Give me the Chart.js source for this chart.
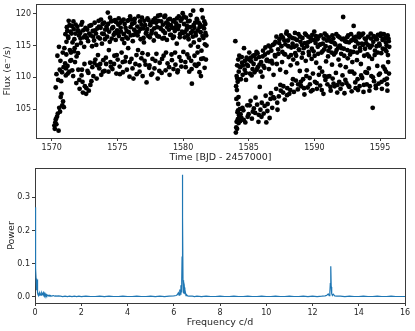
<!DOCTYPE html>
<html>
<head>
<meta charset="utf-8">
<script src="https://cdn.jsdelivr.net/npm/chart.js@4.4.1/dist/chart.umd.min.js"></script>
<style>
  html, body { margin: 0; padding: 0; background: #fff; }
  #wrap { position: relative; width: 415px; height: 331px; }
  .panel { position: absolute; left: 0; width: 415px; }
</style>
</head>
<body>
<div id="wrap">
  <div class="panel" style="top:0;height:166px"><canvas id="lightCurve" width="415" height="166"></canvas></div>
  <div class="panel" style="top:166px;height:165px"><canvas id="periodogram" width="415" height="165"></canvas></div>
</div>
<script>
// Light curve, first orbit (BJD - 2457000, flux e-/s)
const timeA = [
  1570.20,1570.23,1570.27,1570.31,1570.35,1570.40,1570.46,1570.52,1570.57,1570.63,
  1570.68,1570.74,1570.80,1570.86,1570.92,1570.30,1570.36,1570.43,1570.49,1570.55,
  1570.61,1570.66,1570.72,1570.78,1570.84,1570.90,1570.96,1571.02,1571.07,1571.12,
  1571.15,1571.20,1571.24,1571.29,1571.33,1571.38,1571.43,1571.48,1571.53,1571.58,
  1571.63,1571.67,1571.72,1571.77,1571.82,1571.87,1571.92,1571.97,1572.02,1572.07,
  1572.12,1572.17,1572.22,1572.27,1572.32,1572.37,1572.42,1572.47,1572.52,1572.57,
  1572.62,1572.67,1572.72,1572.77,1572.82,1572.87,1572.92,1572.97,1573.02,1573.07,
  1573.12,1573.17,1573.22,1573.27,1573.32,1573.37,1573.42,1573.47,1573.52,1573.57,
  1573.62,1573.67,1573.72,1573.77,1573.82,1573.87,1573.92,1573.97,1574.02,1574.07,
  1574.12,1574.17,1574.22,1574.27,1574.32,1574.37,1574.42,1574.47,1574.52,1574.57,
  1574.62,1574.67,1574.72,1574.77,1574.82,1574.87,1574.92,1574.97,1575.02,1575.07,
  1575.12,1575.17,1575.22,1575.27,1575.32,1575.37,1575.42,1575.47,1575.52,1575.57,
  1575.62,1575.67,1575.72,1575.77,1575.82,1575.87,1575.92,1575.97,1576.02,1576.07,
  1576.12,1576.17,1576.22,1576.27,1576.32,1576.37,1576.42,1576.47,1576.52,1576.57,
  1576.62,1576.67,1576.72,1576.77,1576.82,1576.87,1576.92,1576.97,1577.02,1577.07,
  1577.12,1577.17,1577.22,1577.27,1577.32,1577.37,1577.42,1577.47,1577.52,1577.57,
  1577.62,1577.67,1577.72,1577.77,1577.82,1577.87,1577.92,1577.97,1578.02,1578.07,
  1578.12,1578.17,1578.22,1578.27,1578.32,1578.37,1578.42,1578.47,1578.52,1578.57,
  1578.62,1578.67,1578.72,1578.77,1578.82,1578.87,1578.92,1578.97,1579.02,1579.07,
  1579.12,1579.17,1579.22,1579.27,1579.32,1579.37,1579.42,1579.47,1579.52,1579.57,
  1579.62,1579.67,1579.72,1579.77,1579.82,1579.87,1579.92,1579.97,1580.02,1580.07,
  1580.12,1580.17,1580.22,1580.27,1580.32,1580.37,1580.42,1580.47,1580.52,1580.57,
  1580.62,1580.67,1580.72,1580.77,1580.82,1580.87,1580.92,1580.97,1581.02,1581.07,
  1581.12,1581.18,1581.24,1581.30,1581.36,1581.42,1581.48,1581.54,1581.60,1581.66,
  1581.70,1581.74,1581.78,1581.62,1581.50,1581.38,1581.26,1581.14,1580.86,1580.58,
  1571.04,1571.11,1571.18,1571.26,1571.35,1571.41,1571.50,1571.56,1571.65,1571.74,
  1571.80,1571.89,1571.95,1572.04,1572.10,1572.19,1572.25,1572.34,1572.40,1572.49,
  1572.55,1572.64,1572.70,1572.79,1572.85,1572.94,1573.00,1573.09,1573.15,1573.24,
  1573.30,1573.39,1573.45,1573.54,1573.60,1573.69,1573.75,1573.84,1573.90,1573.99,
  1574.05,1574.14,1574.20,1574.29,1574.35,1574.44,1574.50,1574.59,1574.65,1574.74,
  1574.80,1574.89,1574.95,1575.04,1575.10,1575.19,1575.25,1575.34,1575.40,1575.49,
  1575.55,1575.64,1575.70,1575.79,1575.85,1575.94,1576.00,1576.09,1576.15,1576.24,
  1576.30,1576.39,1576.45,1576.54,1576.60,1576.69,1576.75,1576.84,1576.90,1576.99,
  1577.05,1577.14,1577.20,1577.29,1577.35,1577.44,1577.50,1577.59,1577.65,1577.74,
  1577.80,1577.89,1577.95,1578.04,1578.10,1578.19,1578.25,1578.34,1578.40,1578.49,
  1578.55,1578.64,1578.70,1578.79,1578.85,1578.94,1579.00,1579.09,1579.15,1579.24,
  1579.30,1579.39,1579.45,1579.54,1579.60,1579.69,1579.75,1579.84,1579.90,1579.99,
  1580.05,1580.14,1580.20,1580.29,1580.35,1580.44,1580.50,1580.59,1580.65,1580.74,
  1580.80,1580.89,1580.95,1581.04,1581.10,1581.19,1581.25,1581.34,1581.40,1581.49,
  1581.55,1581.64,1581.69,1581.76,1571.08,1571.22,1571.46,1571.70,1572.00,1572.30
];
const fluxA = [
  102.4,101.9,102.9,103.4,102.6,103.8,104.3,101.6,105.2,104.6,
  106.9,107.4,105.6,106.2,105.3,108.4,110.5,113.4,109.6,114.8,
  111.2,112.6,109.4,110.8,113.9,111.6,114.6,112.2,110.3,115.6,
  117.9,111.8,116.4,118.9,110.9,114.3,117.2,112.7,118.1,115.5,
  110.2,117.6,116.0,112.4,118.3,109.1,115.1,117.4,111.2,116.6,
  108.2,117.0,115.4,110.3,118.7,107.6,116.3,114.8,108.6,117.8,
  107.4,116.2,111.0,115.7,107.9,118.1,112.3,116.6,109.4,114.9,
  117.3,110.2,115.8,118.6,112.8,116.9,109.8,117.7,113.5,118.9,
  111.4,116.1,117.8,110.4,115.3,118.4,112.7,116.8,111.0,117.5,
  113.1,118.0,116.4,120.2,110.9,117.2,115.6,112.4,118.8,116.1,
  111.3,117.9,116.7,113.4,119.0,115.9,110.6,117.4,112.8,118.3,
  116.5,111.7,118.6,117.2,113.9,116.0,110.8,119.1,115.4,112.5,
  117.8,116.3,111.2,118.9,114.6,117.1,110.1,119.6,116.6,112.9,
  118.4,115.7,109.8,117.5,119.2,112.1,116.8,110.5,118.0,114.3,
  117.2,111.9,118.8,116.0,113.0,119.4,110.2,117.7,115.5,112.6,
  118.2,116.9,109.2,117.6,113.6,119.0,111.5,116.3,118.5,110.4,
  117.3,112.9,118.7,115.8,111.4,119.3,116.9,113.7,117.9,109.8,
  118.9,116.4,112.3,119.8,117.6,110.7,116.1,118.3,113.4,119.5,
  117.0,111.1,118.6,115.9,112.2,119.1,117.5,110.4,116.7,118.2,
  113.6,117.8,116.2,111.3,119.0,117.3,112.0,118.5,115.3,110.8,
  117.6,119.6,113.2,116.8,118.9,111.7,117.2,120.1,114.0,118.4,
  116.3,112.4,119.4,117.5,113.6,118.8,116.0,110.9,117.9,119.8,
  112.6,109.0,117.3,120.5,115.5,113.4,118.6,116.6,111.8,119.1,
  117.4,112.1,115.9,118.3,110.2,120.6,116.5,113.0,117.7,115.2,
  117.0,112.8,115.0,118.8,119.4,112.9,117.9,114.8,117.8,115.0,
  116.8,113.6,117.3,116.2,118.2,112.6,116.9,111.1,118.8,114.6,
  116.9,113.3,118.0,117.3,109.6,116.1,118.3,109.3,117.4,112.1,
  116.6,108.3,117.5,110.7,116.9,108.8,118.2,111.6,116.4,112.3,
  117.4,115.1,111.9,116.3,118.0,112.1,119.1,116.9,110.9,118.6,
  116.0,112.1,117.6,118.4,114.3,119.4,111.7,117.7,118.9,112.1,
  117.0,118.7,113.5,116.9,119.3,110.5,117.8,118.9,112.4,116.8,
  118.4,113.2,117.3,116.1,119.0,112.4,117.9,119.1,111.4,116.7,
  118.6,117.2,113.5,116.6,119.6,110.9,117.6,118.3,113.8,116.2,
  118.9,112.0,117.1,119.3,116.5,111.9,118.2,116.9,110.6,119.0,
  117.7,112.6,118.6,116.5,119.7,111.0,117.8,118.8,112.9,117.3,
  116.2,119.7,113.9,117.9,118.4,111.6,119.2,116.7,112.7,118.8,
  116.4,113.9,117.9,119.3,111.1,118.1,116.3,112.6,119.2,117.0,
  119.6,117.1,111.6,118.1,116.6,113.1,118.9,117.0,111.3,116.4,
  118.2,112.0,117.0,119.2,113.9,118.6,110.8,117.1,114.2,118.0,
  116.2,111.5,118.4,116.6,111.4,110.6,113.9,114.1,113.8,111.2
];

// Light curve, second orbit
const timeB = [
  1583.98,1584.02,1584.05,1584.08,1584.11,1584.14,1584.17,1584.20,1584.23,1584.26,
  1584.04,1584.08,1584.12,1584.16,1584.20,1584.24,1584.28,1584.32,1584.36,1584.40,
  1584.44,1584.49,1584.54,1584.59,1584.64,1584.69,1584.74,1584.79,1584.84,1584.89,
  1584.94,1584.99,1585.04,1585.09,1585.14,1585.19,1585.24,1585.29,1585.34,1585.39,
  1585.44,1585.49,1585.54,1585.59,1585.64,1585.69,1585.74,1585.79,1585.84,1585.89,
  1585.94,1585.99,1586.04,1586.09,1586.14,1586.19,1586.24,1586.29,1586.34,1586.39,
  1586.44,1586.49,1586.54,1586.59,1586.64,1586.69,1586.74,1586.79,1586.84,1586.89,
  1586.94,1586.99,1587.04,1587.09,1587.14,1587.19,1587.24,1587.29,1587.34,1587.39,
  1587.44,1587.49,1587.54,1587.59,1587.64,1587.69,1587.74,1587.79,1587.84,1587.89,
  1587.94,1587.99,1588.04,1588.09,1588.14,1588.19,1588.24,1588.29,1588.34,1588.39,
  1588.44,1588.49,1588.54,1588.59,1588.64,1588.69,1588.74,1588.79,1588.84,1588.89,
  1588.94,1588.99,1589.04,1589.09,1589.14,1589.19,1589.24,1589.29,1589.34,1589.39,
  1589.44,1589.49,1589.54,1589.59,1589.64,1589.69,1589.74,1589.79,1589.84,1589.89,
  1589.94,1589.99,1590.04,1590.09,1590.14,1590.19,1590.24,1590.29,1590.34,1590.39,
  1590.44,1590.49,1590.54,1590.59,1590.64,1590.69,1590.74,1590.79,1590.84,1590.89,
  1590.94,1590.99,1591.04,1591.09,1591.14,1591.19,1591.24,1591.29,1591.34,1591.39,
  1591.44,1591.49,1591.54,1591.59,1591.64,1591.69,1591.74,1591.79,1591.84,1591.89,
  1591.94,1591.99,1592.04,1592.09,1592.14,1592.19,1592.24,1592.29,1592.34,1592.39,
  1592.44,1592.49,1592.54,1592.59,1592.64,1592.69,1592.74,1592.79,1592.84,1592.89,
  1592.94,1592.99,1593.04,1593.09,1593.14,1593.19,1593.24,1593.29,1593.34,1593.39,
  1593.44,1593.49,1593.54,1593.59,1593.64,1593.69,1593.74,1593.79,1593.84,1593.89,
  1593.94,1593.99,1594.04,1594.09,1594.14,1594.19,1594.24,1594.29,1594.34,1594.39,
  1594.44,1594.49,1594.54,1594.59,1594.64,1594.69,1594.74,1594.79,1594.84,1594.89,
  1594.94,1594.99,1595.04,1595.09,1595.14,1595.19,1595.24,1595.29,1595.34,1595.39,
  1595.42,1595.46,1595.50,1595.54,1595.58,1595.62,1595.66,1595.70,1595.52,1595.60,
  1584.06,1584.13,1584.19,1584.30,1584.38,1584.47,1584.56,1584.62,1584.71,1584.77,
  1584.86,1584.92,1585.01,1585.07,1585.16,1585.22,1585.31,1585.37,1585.46,1585.52,
  1585.61,1585.67,1585.76,1585.82,1585.91,1585.97,1586.06,1586.12,1586.21,1586.27,
  1586.36,1586.42,1586.51,1586.57,1586.66,1586.72,1586.81,1586.87,1586.96,1587.02,
  1587.11,1587.17,1587.26,1587.32,1587.41,1587.47,1587.56,1587.62,1587.71,1587.77,
  1587.86,1587.92,1588.01,1588.07,1588.16,1588.22,1588.31,1588.37,1588.46,1588.52,
  1588.61,1588.67,1588.76,1588.82,1588.91,1588.97,1589.06,1589.12,1589.21,1589.27,
  1589.36,1589.42,1589.51,1589.57,1589.66,1589.72,1589.81,1589.87,1589.96,1590.02,
  1590.11,1590.17,1590.26,1590.32,1590.41,1590.47,1590.56,1590.62,1590.71,1590.77,
  1590.86,1590.92,1591.01,1591.07,1591.16,1591.22,1591.31,1591.37,1591.46,1591.52,
  1591.61,1591.67,1591.76,1591.82,1591.91,1591.97,1592.06,1592.12,1592.21,1592.27,
  1592.36,1592.42,1592.51,1592.57,1592.66,1592.72,1592.81,1592.87,1592.96,1593.02,
  1593.11,1593.17,1593.26,1593.32,1593.41,1593.47,1593.56,1593.62,1593.71,1593.77,
  1593.86,1593.92,1594.01,1594.07,1594.16,1594.22,1594.31,1594.37,1594.46,1594.52,
  1594.61,1594.67,1594.76,1594.82,1594.91,1594.97,1595.06,1595.12,1595.21,1595.27,
  1595.36,1595.44,1595.48,1595.56,1595.64,1595.68,1584.10,1584.22,1584.34,1584.52
];
const fluxB = [
  115.7,101.3,102.1,103.0,101.9,104.5,103.4,105.8,102.8,104.0,
  108.6,110.2,111.9,109.3,112.8,110.9,113.4,105.0,111.6,109.7,
  103.6,112.3,110.4,104.8,114.6,111.2,102.9,109.6,113.1,105.6,
  111.8,104.2,113.9,110.6,106.3,112.5,103.5,111.3,113.4,105.1,
  110.8,104.4,112.9,114.0,105.7,111.6,103.0,113.2,108.5,104.9,
  112.4,106.0,110.1,114.2,104.3,111.5,113.6,107.1,102.9,112.8,
  105.8,113.9,111.3,103.6,114.8,107.5,112.6,105.2,115.1,110.4,
  106.7,113.5,115.6,108.2,112.1,104.9,114.4,107.0,116.0,111.2,
  107.9,114.9,112.4,116.3,108.6,113.7,106.5,115.2,110.8,117.2,
  108.3,115.8,113.2,107.4,116.4,111.9,114.7,108.9,115.3,112.8,
  107.7,116.1,113.8,109.5,115.0,112.2,108.1,116.8,114.3,111.0,
  115.6,108.6,113.1,116.2,109.7,114.6,107.3,116.9,112.6,110.2,
  114.9,108.4,116.4,113.5,109.9,115.7,107.8,112.9,116.7,110.6,
  114.1,117.2,109.3,115.4,112.3,108.2,116.0,113.7,110.4,115.1,
  108.7,116.6,113.9,110.9,115.3,107.4,114.4,116.9,109.6,112.5,
  115.8,108.9,113.3,116.3,110.2,114.7,107.9,115.6,112.0,109.8,
  116.1,113.6,108.6,115.2,110.7,114.3,107.6,116.5,112.8,109.3,
  115.0,108.2,113.7,116.0,110.3,119.5,114.5,107.5,115.7,111.6,
  109.1,116.3,113.0,108.7,115.5,110.9,114.1,116.8,107.8,112.4,
  115.9,118.1,110.6,114.8,108.3,116.4,112.7,109.7,115.3,116.9,
  108.6,114.2,112.1,116.6,109.9,115.1,107.7,113.4,116.1,110.8,
  115.4,108.9,113.6,116.4,111.4,107.9,114.7,116.9,110.2,112.9,
  105.2,115.6,109.4,113.5,116.2,108.3,114.9,111.8,116.7,109.0,
  115.3,110.6,116.5,113.8,108.2,115.9,111.7,116.8,109.6,114.4,
  116.2,110.9,115.0,108.9,116.6,112.4,115.7,114.8,109.8,113.5,
  106.6,109.8,104.8,111.7,104.2,113.2,111.9,103.3,112.6,110.7,
  112.0,103.8,112.8,105.6,113.1,110.3,104.6,112.1,113.5,106.8,
  111.2,113.8,104.1,112.0,110.9,103.8,113.3,111.8,105.5,114.7,
  112.6,104.7,115.0,112.5,106.6,114.2,112.2,106.9,115.3,113.3,
  116.4,106.0,113.7,115.4,108.8,116.6,114.0,107.6,115.8,113.6,
  116.9,107.2,114.9,116.6,108.0,113.5,116.2,109.7,114.8,117.0,
  113.4,115.9,108.9,114.4,116.4,109.3,115.1,113.8,108.3,115.4,
  116.7,111.1,115.5,114.0,108.9,116.2,114.5,108.0,115.9,113.4,
  116.5,109.1,114.8,116.4,111.5,115.2,108.0,114.1,116.1,110.2,
  114.9,116.6,110.1,114.2,115.8,108.5,113.9,116.6,109.0,115.4,
  113.9,116.8,108.8,114.7,116.3,111.9,114.6,108.9,116.1,113.4,
  109.6,115.6,114.3,116.6,108.5,113.6,115.8,110.9,114.0,116.3,
  109.2,115.7,113.9,108.0,116.3,114.6,110.3,115.3,116.9,108.8,
  114.5,116.0,110.7,115.1,113.3,108.6,116.1,115.0,110.0,116.5,
  114.2,108.7,116.0,113.9,110.4,115.0,116.9,109.3,114.5,116.1,
  111.3,115.5,114.1,107.9,116.1,110.6,108.0,106.9,103.1,105.2
];

// Periodogram (frequency c/d, power)
const freq = [
  0.000,0.010,0.020,0.030,0.040,0.050,0.060,0.070,0.080,0.090,
  0.100,0.110,0.120,0.130,0.140,0.160,0.180,0.200,0.220,0.240,
  0.260,0.280,0.300,0.320,0.340,0.360,0.380,0.400,0.420,0.440,
  0.460,0.480,0.500,0.520,0.550,0.580,0.610,0.640,0.670,0.700,
  0.750,0.800,0.850,0.900,0.950,1.000,1.100,1.200,1.300,1.400,
  1.500,1.600,1.700,1.800,1.900,2.000,2.200,2.400,2.600,2.800,
  3.000,3.200,3.400,3.600,3.800,4.000,4.200,4.400,4.600,4.800,
  5.000,5.200,5.400,5.600,5.800,6.000,6.100,6.150,6.200,6.230,
  6.260,6.290,6.310,6.330,6.345,6.360,6.370,6.380,6.390,6.400,
  6.410,6.425,6.440,6.460,6.480,6.500,6.530,6.560,6.600,6.650,
  6.700,6.800,6.900,7.000,7.200,7.400,7.600,7.800,8.000,8.200,
  8.400,8.600,8.800,9.000,9.200,9.400,9.600,9.800,10.000,10.200,
  10.400,10.600,10.800,11.000,11.200,11.400,11.600,11.800,12.000,12.200,
  12.400,12.550,12.620,12.680,12.720,12.750,12.770,12.790,12.810,12.830,
  12.860,12.900,12.960,13.050,13.200,13.400,13.600,13.800,14.000,14.200,
  14.400,14.600,14.800,15.000,15.200,15.400,15.600,15.800,16.000
];
const power = [
  0.262,0.270,0.215,0.140,0.085,0.050,0.030,0.020,0.055,0.040,
  0.052,0.030,0.012,0.006,0.004,0.009,0.005,0.010,0.006,0.008,
  0.005,0.009,0.012,0.007,0.010,0.013,0.008,0.011,0.006,0.009,
  0.005,0.007,0.004,0.006,0.004,0.003,0.005,0.003,0.004,0.002,
  0.003,0.004,0.002,0.003,0.002,0.003,0.002,0.001,0.002,0.001,
  0.002,0.001,0.002,0.001,0.002,0.001,0.002,0.001,0.001,0.002,
  0.001,0.002,0.001,0.001,0.002,0.001,0.001,0.002,0.001,0.001,
  0.002,0.001,0.002,0.001,0.002,0.003,0.004,0.006,0.012,0.005,
  0.022,0.008,0.035,0.015,0.050,0.120,0.300,0.368,0.240,0.050,
  0.012,0.045,0.010,0.028,0.008,0.015,0.004,0.006,0.003,0.002,
  0.002,0.002,0.001,0.002,0.001,0.002,0.001,0.001,0.002,0.001,
  0.001,0.002,0.001,0.001,0.002,0.001,0.001,0.002,0.001,0.001,
  0.002,0.001,0.001,0.002,0.001,0.001,0.002,0.001,0.002,0.001,
  0.002,0.003,0.005,0.009,0.004,0.012,0.040,0.092,0.030,0.010,
  0.004,0.008,0.003,0.002,0.002,0.001,0.002,0.001,0.001,0.002,
  0.001,0.001,0.002,0.001,0.001,0.002,0.001,0.001,0.001
];

const timeTicks = [1570, 1575, 1580, 1585, 1590, 1595];
const fluxTicks = [105, 110, 115, 120];
const freqTicks = [0, 2, 4, 6, 8, 10, 12, 14, 16];
const powerTicks = [0.0, 0.1, 0.2, 0.3];

const FONT = 'DejaVu Sans';
const INK = '#262626';

// matplotlib-like box around the plot area (drawn under the data)
const framePlugin = {
    id: 'frame',
    beforeDatasetsDraw(chart) {
        const { ctx, chartArea: a } = chart;
        ctx.save();
        ctx.strokeStyle = '#3a3a3a';
        ctx.lineWidth = 1;
        ctx.strokeRect(Math.round(a.left) + 0.5, Math.round(a.top) + 0.5,
            Math.round(a.right - a.left), Math.round(a.bottom - a.top));
        ctx.restore();
    }
};

function axis(opts) {
    return {
        type: 'linear',
        min: opts.min,
        max: opts.max,
        border: { display: false },
        grid: { drawOnChartArea: false, drawTicks: true, tickLength: 3, color: '#3a3a3a', tickWidth: 1 },
        ticks: {
            font: { family: FONT, size: 8 },
            color: INK,
            padding: 2,
            maxRotation: 0,
            callback: opts.format
        },
        title: {
            display: true,
            text: opts.title,
            font: { family: FONT, size: 9.5 },
            color: INK,
            padding: opts.titlePad
        },
        afterBuildTicks: s => { s.ticks = opts.ticks.map(v => ({ value: v })); },
        afterFit: s => {
            // no extra room for end labels, the plot box is placed by layout padding
            s.paddingTop = 0; s.paddingBottom = 0;
            s.paddingLeft = 0; s.paddingRight = 0;
            if (opts.width) s.width = opts.width;
            if (opts.height) s.height = opts.height;
        }
    };
}

function makePoints(xs, ys) {
    return xs.map((x, i) => ({ x: x, y: ys[i] }));
}

new Chart(document.getElementById('lightCurve'), {
    type: 'scatter',
    data: {
        datasets: [
            { data: makePoints(timeA, fluxA), backgroundColor: '#000', pointRadius: 2.4, borderWidth: 0 },
            { data: makePoints(timeB, fluxB), backgroundColor: '#000', pointRadius: 2.4, borderWidth: 0 }
        ]
    },
    options: {
        responsive: false,
        animation: false,
        layout: { padding: { top: 4, right: 10, left: 0, bottom: 0 } },
        plugins: { legend: { display: false }, tooltip: { enabled: false } },
        scales: {
            x: axis({ min: 1568.8, max: 1596.9, ticks: timeTicks, title: 'Time [BJD - 2457000]',
                      titlePad: { top: 0, bottom: 3 }, height: 28, format: v => v }),
            y: axis({ min: 100.45, max: 121.55, ticks: fluxTicks, title: 'Flux (e\u207B/s)',
                      titlePad: { top: 2, bottom: 0 }, width: 36, format: v => v })
        }
    },
    plugins: [framePlugin]
});

new Chart(document.getElementById('periodogram'), {
    type: 'line',
    data: {
        datasets: [{
            data: makePoints(freq, power),
            borderColor: '#1f77b4',
            borderWidth: 1.2,
            pointRadius: 0,
            tension: 0,
            fill: false
        }]
    },
    options: {
        responsive: false,
        animation: false,
        layout: { padding: { top: 2, right: 10, left: 0, bottom: 0 } },
        plugins: { legend: { display: false }, tooltip: { enabled: false } },
        scales: {
            x: axis({ min: 0, max: 16, ticks: freqTicks, title: 'Frequency c/d',
                      titlePad: { top: 0, bottom: 3 }, height: 28, format: v => v }),
            y: axis({ min: -0.0185, max: 0.388, ticks: powerTicks, title: 'Power',
                      titlePad: { top: 6, bottom: 0 }, width: 35, format: v => v.toFixed(1) })
        }
    },
    plugins: [framePlugin]
});
</script>
</body>
</html>
